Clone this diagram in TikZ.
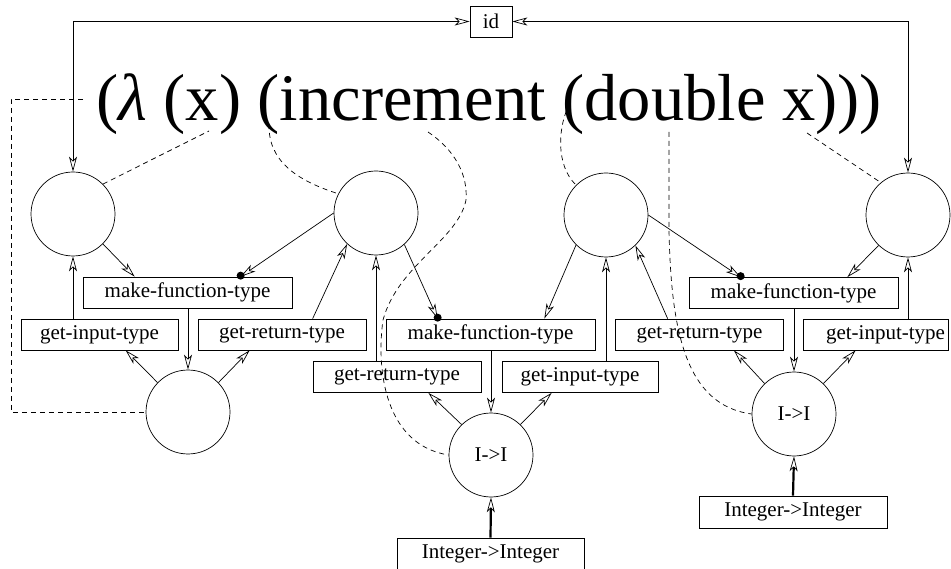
\documentclass[tikz,border=0pt]{standalone}
\usepackage{fontspec}
\setmainfont{Liberation Serif}
\usetikzlibrary{arrows.meta,calc}
\begin{document}
\begin{tikzpicture}[x=1pt,y=-1pt,
  every node/.style={font=\fontsize{21}{24}\selectfont},
  circ/.style={draw,circle,minimum size=84pt,inner sep=0pt,line width=0.7pt},
  box/.style={draw,rectangle,minimum height=31pt,inner sep=1pt,line width=0.7pt,fill=white},
  mft/.style={box,minimum width=209pt},
  git/.style={box,minimum width=157pt},
  grt/.style={box,minimum width=168pt},
  intb/.style={box,minimum width=187pt,minimum height=32pt},
  arr/.style={line width=0.7pt,-{Stealth[open,length=15pt,width=8pt,inset=4pt]}},
  dbl/.style={line width=0.7pt,{Stealth[open,length=15pt,width=8pt,inset=4pt]}-{Stealth[open,length=15pt,width=8pt,inset=4pt]}},
  thk/.style={line width=2.2pt,-{Stealth[open,length=15pt,width=8pt,inset=4pt,line width=0.7pt]}},
  dsh/.style={line width=0.7pt,dash pattern=on 5pt off 4pt},
  dotc/.style={fill=black}
]
\useasboundingbox (0,0) rectangle (951,569);

% expression
\node[anchor=base,inner sep=0pt,font=\fontsize{66.5}{70}\selectfont] (expr) at (489,121) {(\textit{λ} (x) (increment (double x)))};

% circles
\node[circ] (c1) at (73,214) {};
\node[circ] (c2) at (376,213) {};
\node[circ] (c3) at (606,215) {};
\node[circ] (c4) at (908,215) {};
\node[circ] (c5) at (188,412) {};
\node[circ] (c6) at (491,455) {I->I};
\node[circ] (c7) at (794,414) {I->I};

% boxes
\node[box,minimum width=42pt] (id) at (491,21.5) {id};
\node[mft] (mftL) at (187.5,292.5) {make-function-type};
\node[git] (gitL) at (99.5,334.5) {get-input-type};
\node[grt] (grtL) at (282,334.5) {get-return-type};
\node[mft] (mftM) at (490.5,334.5) {make-function-type};
\node[grt] (grtM) at (397,377) {get-return-type};
\node[git,minimum width=156pt] (gitM) at (580,377) {get-input-type};
\node[grt] (grtR) at (699.5,334.5) {get-return-type};
\node[mft] (mftR) at (793.5,293) {make-function-type};
\node[box,minimum width=145pt,text width=139pt,align=right] (gitR) at (875.5,334.5) {get-input-type\hspace*{4pt}};
\node[intb] (intM) at (490.5,554) {Integer->Integer};
\node[intb,minimum width=188pt] (intR) at (793,512) {Integer->Integer};

% dot coordinates on make-function-type tops
\coordinate (dL) at ($(mftL.north west)+(158,0)$);
\coordinate (dM) at ($(mftM.north west)+(52,0)$);
\coordinate (dR) at ($(mftR.north west)+(52,0)$);

% id connectors
\draw[dbl] (c1.north) |- (id.west);
\draw[dbl] (c4.north) |- (id.east);

% left group
\draw[arr] (c1.-45) -- ($(mftL.north west)+(52,0)$);
\draw[arr] (c2.180) -- (dL);
\draw[arr] (c1 |- gitL.north) -- (c1.south);
\draw[arr] ($(grtL.north west)+(115,0)$) -- (c2.-133);
\draw[arr] (c5 |- mftL.south) -- (c5.north);
\draw[arr] (c5.136) -- ($(gitL.south west)+(105,0)$);
\draw[arr] (c5.44) -- ($(grtL.south west)+(52,0)$);

% middle group
\draw[arr] (c2.-48) -- (dM);
\draw[arr] (c2 |- grtM.north) -- (c2.south);
\draw[arr] (c3.-135) -- ($(mftM.north east)+(-51,0)$);
\draw[arr] (c3 |- gitM.north) -- (c3.south);
\draw[arr] ($(grtR.north west)+(52.5,0)$) -- (c3.-46);
\draw[arr] (c6 |- mftM.south) -- (c6.north);
\draw[arr] (c6.134) -- ($(grtM.south east)+(-53,0)$);
\draw[arr] (c6.46) -- ($(gitM.south west)+(50,0)$);
\draw[thk] (intM.north) -- (c6.south);

% right group
\draw[arr] (c3.0) -- (dR);
\draw[arr] (c4.-134) -- ($(mftR.north east)+(-51,0)$);
\draw[arr] (c4 |- gitR.north) -- (c4.south);
\draw[arr] (c7 |- mftR.south) -- (c7.north);
\draw[arr] (c7.134) -- ($(grtR.south east)+(-50,0)$);
\draw[arr] (c7.46) -- ($(gitR.south west)+(53,0)$);
\draw[thk] (intR.north) -- (c7.south);

% dots
\fill[dotc] ($(dL)+(0,-1)$) circle (4);
\fill[dotc] ($(dM)+(0,-1)$) circle (4);
\fill[dotc] ($(dR)+(0,-1)$) circle (4);

% dashed links from the expression
\coordinate (t1) at (83,99);
\coordinate (lc) at (11,99);
\coordinate (t2) at (209,131);
\coordinate (t3) at (269,124);
\coordinate (t4) at (428,132);
\coordinate (t5) at (570,103);
\coordinate (t6) at (669,132);
\coordinate (t7) at (807,133);

\draw[dsh] (t1) -- (lc) |- (c5.west);
\draw[dsh] (c1.45) -- (t2);
\draw[dsh] (t3) .. controls (268,160) and (295,180) .. (c2.153);
\draw[dsh] (t4) .. controls (455,150) and (468,175) .. (466,200)
  .. controls (458,240) and (398,265) .. (383,320)
  .. controls (376,370) and (385,445) .. (c6.west);
\draw[dsh] (t5) .. controls (558,125) and (555,165) .. (c3.135);
\draw[dsh] (t6) -- (669,230) .. controls (671,330) and (685,405) .. (c7.west);
\draw[dsh] (t7) -- (c4.130);
\end{tikzpicture}
\end{document}
